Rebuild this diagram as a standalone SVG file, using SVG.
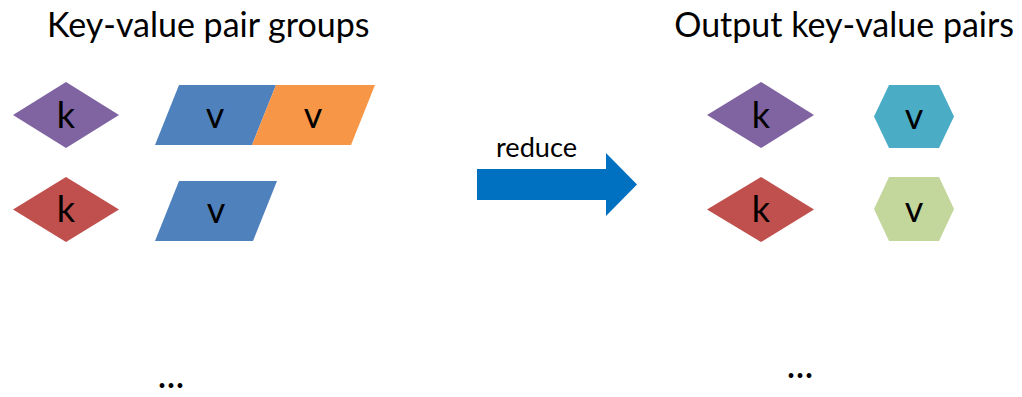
<svg xmlns="http://www.w3.org/2000/svg" width="1022" height="397" viewBox="0 0 1022 397">
  <style>
    text { font-family: Lato, "Open Sans", "Liberation Sans", sans-serif; fill: #000; }
    .title { font-size: 34px; }
    .lbl { font-size: 36px; text-anchor: middle; }
    .dots { font-size: 38px; text-anchor: middle; }
    .small { font-size: 26px; }
    .purple { fill: #8064A2; }
    .red { fill: #C0504D; }
    .blue { fill: #4F81BD; }
    .orange { fill: #F79646; }
    .teal { fill: #4BACC6; }
    .green { fill: #C3D69B; }
  </style>
  <rect width="1022" height="397" fill="#fff"/>

  <!-- headings -->
  <text class="title" x="47" y="37">Key-value pair groups</text>
  <text class="title" x="1014" y="37" text-anchor="end">Output key-value pairs</text>

  <!-- input groups -->
  <g id="key1">
    <polygon class="purple" points="13,115 66,82 119,115 66,148"/>
    <text class="lbl" x="66" y="128">k</text>
  </g>
  <g id="val1a">
    <polygon class="blue" points="179,85 276,85 252,145 155,145"/>
    <text class="lbl" x="215" y="128">v</text>
  </g>
  <g id="val1b">
    <polygon class="orange" points="276,85 375,85 351,145 252,145"/>
    <text class="lbl" x="313" y="128">v</text>
  </g>
  <g id="key2">
    <polygon class="red" points="13,209.5 66,177 119,209.5 66,242"/>
    <text class="lbl" x="66" y="222">k</text>
  </g>
  <g id="val2">
    <polygon class="blue" points="179,181 277,181 253,241 155,241"/>
    <text class="lbl" x="216" y="223">v</text>
  </g>
  <text id="more-in" class="dots" x="171" y="388">...</text>

  <!-- reduce step -->
  <g id="connectors">
    <polygon fill="#0070C0" points="477,169 606,169 606,153 637,184.5 606,216 606,200 477,200"/>
    <text class="small" x="496" y="157" textLength="81" lengthAdjust="spacingAndGlyphs">reduce</text>
  </g>

  <!-- output pairs -->
  <g id="okey1">
    <polygon class="purple" points="707,115 761,82 814,115 761,148"/>
    <text class="lbl" x="761" y="128">k</text>
  </g>
  <g id="oval1">
    <polygon class="teal" points="874,116.5 889,85 939,85 954,116.5 939,148 889,148"/>
    <text class="lbl" x="914" y="129">v</text>
  </g>
  <g id="okey2">
    <polygon class="red" points="707,209.5 761,177 814,209.5 761,242"/>
    <text class="lbl" x="761" y="222">k</text>
  </g>
  <g id="oval2">
    <polygon class="green" points="874,209 889,177 939,177 954,209 939,241 889,241"/>
    <text class="lbl" x="914" y="222">v</text>
  </g>
  <text id="more-out" class="dots" x="800" y="378">...</text>
</svg>
